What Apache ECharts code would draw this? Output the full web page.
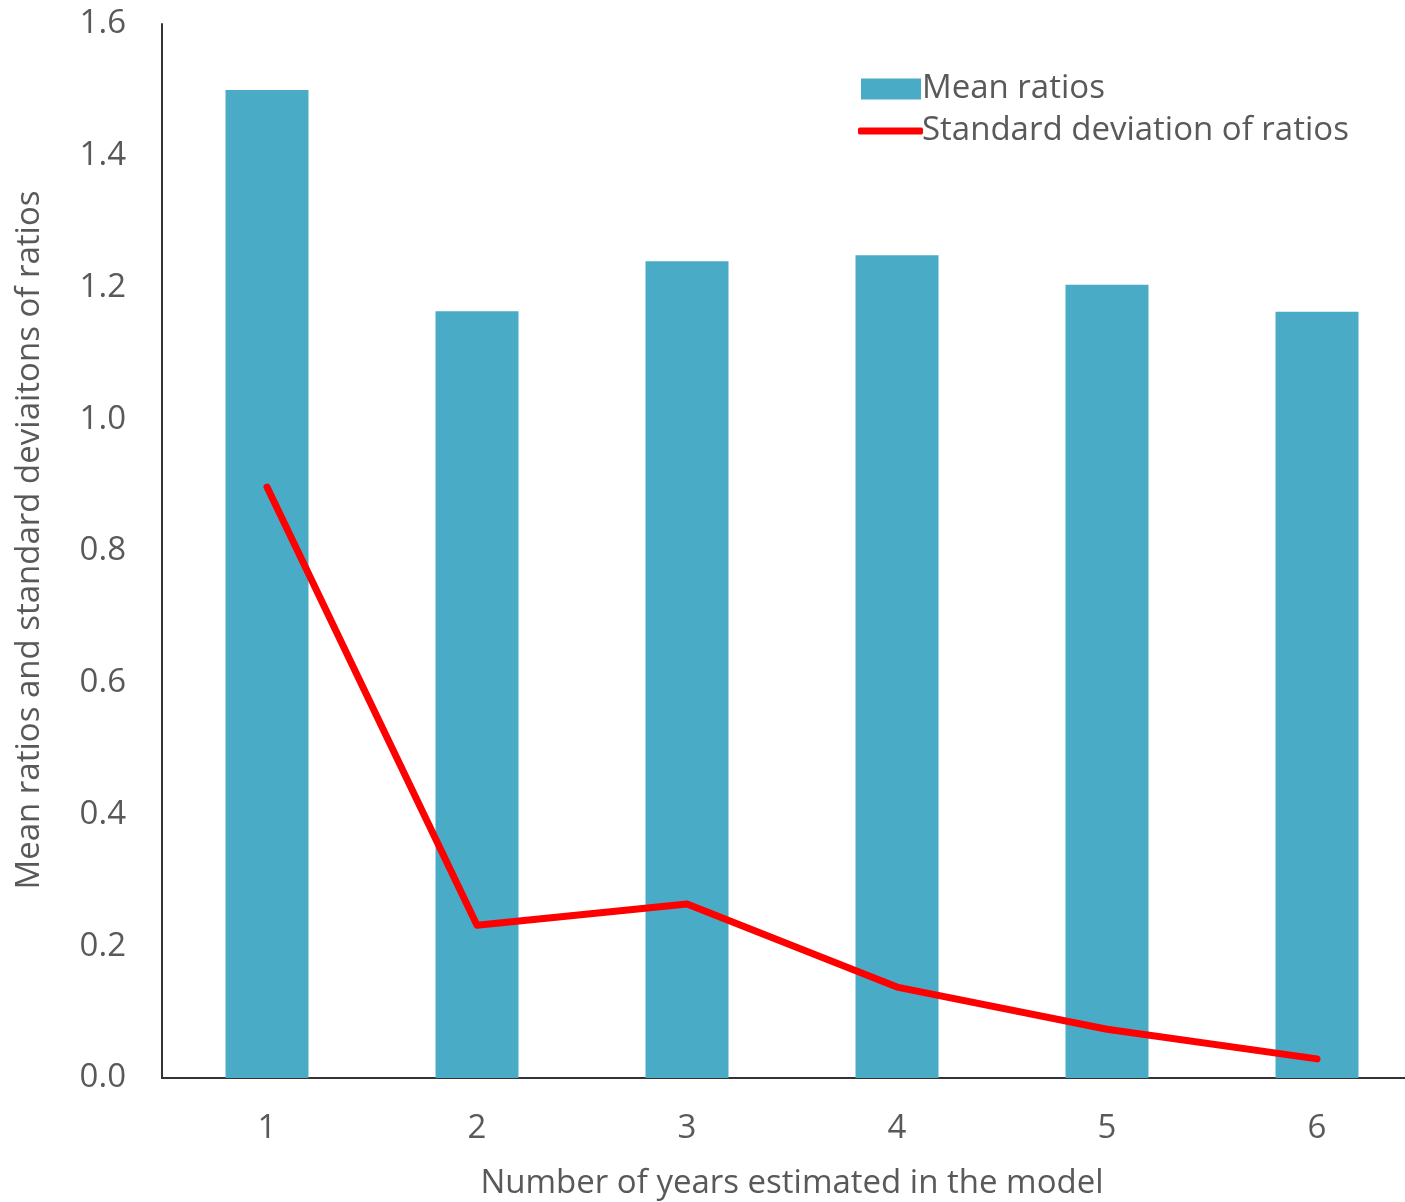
<!DOCTYPE html>
<html>
<head>
<meta charset="utf-8">
<script src="https://cdn.jsdelivr.net/npm/echarts@6/dist/echarts.min.js"></script>
<style>
  html, body { margin: 0; padding: 0; background: #fff; overflow: hidden; }
  #chart { width: 1405px; height: 1202px; }
</style>
</head>
<body>
<div id="chart"></div>
<script>
const years = ['1', '2', '3', '4', '5', '6'];
const meanRatios = [1.50, 1.164, 1.240, 1.249, 1.204, 1.163];
const sdRatios = [0.897, 0.232, 0.264, 0.138, 0.074, 0.029];
const yTicks = { min: 0, max: 1.6, interval: 0.2 };

const font = '"Open Sans", "Noto Sans", sans-serif';
const grey = '#595959';
const legendText = { fontSize: 33, lineHeight: 40, color: grey, fontFamily: font };

const chart = echarts.init(document.getElementById('chart'));
chart.setOption({
  animation: false,
  textStyle: { fontFamily: font },
  grid: { left: 162, top: 24, width: 1260, height: 1054, containLabel: false, outerBoundsMode: 'none' },
  legend: [
    {
      left: 856,
      top: 64,
      itemWidth: 60,
      itemHeight: 21,
      textStyle: Object.assign({ padding: [0, 0, 0, -4] }, legendText),
      data: [{ name: 'Mean ratios', icon: 'rect' }]
    },
    {
      left: 853,
      top: 106,
      itemWidth: 65,
      itemHeight: 7,
      textStyle: Object.assign({ padding: [0, 0, 0, -6] }, legendText),
      data: [{ name: 'Standard deviation of ratios', icon: 'roundRect' }]
    }
  ],
  xAxis: {
    type: 'category',
    data: years,
    name: 'Number of years estimated in the model',
    nameLocation: 'middle',
    nameGap: 89,
    nameTextStyle: { fontSize: 33, color: grey },
    axisLine: { lineStyle: { color: '#333', width: 2 } },
    axisTick: { show: false },
    axisLabel: { fontSize: 33, color: grey, margin: 34 }
  },
  yAxis: {
    type: 'value',
    min: yTicks.min,
    max: yTicks.max,
    interval: yTicks.interval,
    name: 'Mean ratios and standard deviaitons of ratios',
    nameLocation: 'middle',
    nameGap: 116,
    nameTextStyle: { fontSize: 33, color: grey, padding: [0, 0, 0, 22] },
    axisLine: { show: true, lineStyle: { color: '#333', width: 2 } },
    axisTick: { show: false },
    splitLine: { show: false },
    axisLabel: { fontSize: 33, color: grey, margin: 36, formatter: v => v.toFixed(1) }
  },
  series: [
    {
      name: 'Mean ratios',
      type: 'bar',
      data: meanRatios,
      barWidth: 83,
      itemStyle: { color: '#4AABC6' }
    },
    {
      name: 'Standard deviation of ratios',
      type: 'line',
      data: sdRatios,
      symbol: 'none',
      lineStyle: { color: '#FF0000', width: 7, cap: 'round', join: 'round' },
      itemStyle: { color: '#FF0000' }
    }
  ]
});
</script>
</body>
</html>
